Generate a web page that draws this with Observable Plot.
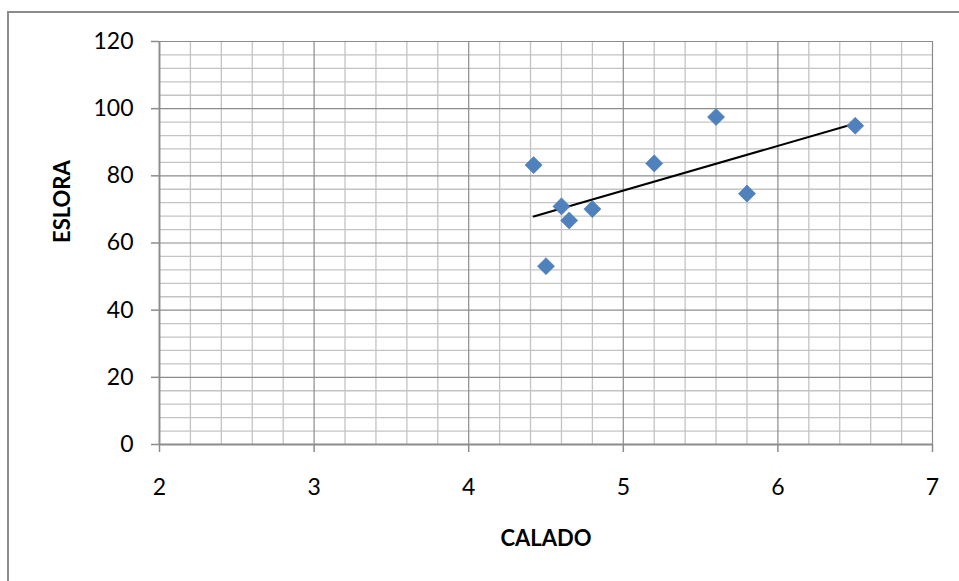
<!DOCTYPE html>
<html>
<head>
<meta charset="utf-8">
<script src="https://cdn.jsdelivr.net/npm/d3@7"></script>
<script src="https://cdn.jsdelivr.net/npm/@observablehq/plot@0.6"></script>
<style>
  html, body { margin: 0; padding: 0; background: #fff; }
  #wrap { position: relative; width: 959px; height: 581px; overflow: hidden; }
  #frame { position: absolute; left: 7px; top: 11px; width: 1000px; height: 600px;
           border-left: 2px solid #8c8c8c; border-top: 2px solid #8c8c8c; pointer-events: none; }
</style>
</head>
<body>
<div id="wrap"><div id="frame"></div></div>
<script>
// Calado (m) vs eslora (m)
const calado = [4.42, 4.6, 4.65, 4.8, 4.5, 5.2, 5.6, 5.8, 6.5];
const eslora = [83.2, 70.9, 66.7, 70.1, 53.1, 83.7, 97.5, 74.7, 94.9];
const xTicks = [2, 3, 4, 5, 6, 7];
const yTicks = [0, 20, 40, 60, 80, 100, 120];

const data = calado.map((c, i) => ({calado: c, eslora: eslora[i]}));

const xMinor = d3.range(0, 26).map(i => 2 + i * 0.2).filter(v => Math.abs(v - Math.round(v)) > 1e-6);
const yMinor = d3.range(0, 31).map(i => i * 4).filter(v => v % 20 !== 0);

const font = "Lato, 'Noto Sans', sans-serif";

const chart = Plot.plot({
  width: 959,
  height: 581,
  marginLeft: 159,
  marginRight: 27,
  marginTop: 41,
  marginBottom: 137,
  style: {fontFamily: font, fontSize: "23px", color: "#000", background: "transparent", overflow: "visible"},
  x: {domain: [2, 7]},
  y: {domain: [0, 120]},
  marks: [
    Plot.ruleX(xMinor, {stroke: "#c4c4c4", strokeWidth: 1.3}),
    Plot.ruleY(yMinor, {stroke: "#c4c4c4", strokeWidth: 1.3}),
    Plot.ruleX(xTicks, {stroke: "#8c8c8c", strokeWidth: 1.2}),
    Plot.ruleY(yTicks, {stroke: "#8c8c8c", strokeWidth: 1.2}),
    Plot.ruleX([2], {stroke: "#8c8c8c", strokeWidth: 1.8}),
    Plot.ruleY([0], {stroke: "#8c8c8c", strokeWidth: 1.8}),
    Plot.axisX(xTicks, {tickSize: 8, tickPadding: 26, tickFormat: "d", stroke: "#8c8c8c", strokeWidth: 1.5, fill: "#000", fontSize: 23, label: null}),
    Plot.axisY(yTicks, {tickSize: 8, tickPadding: 18, tickFormat: "d", stroke: "#8c8c8c", strokeWidth: 1.5, fill: "#000", fontSize: 23, label: null}),
    Plot.linearRegressionY(data, {x: "calado", y: "eslora", stroke: "#000", strokeWidth: 2, ci: 0}),
    Plot.dot(data, {x: "calado", y: "eslora", symbol: "diamond2", r: 7.7, fill: "#4f81bd", stroke: "#4a7ab3", strokeWidth: 0.6}),
    Plot.text(["ESLORA"], {frameAnchor: "left", rotate: -90, dx: -97, fontWeight: "bold", fontSize: 22, fill: "#000"}),
    Plot.text(["CALADO"], {frameAnchor: "bottom", dy: 101, fontWeight: "bold", fontSize: 22, fill: "#000"})
  ]
});

document.getElementById("wrap").prepend(chart);
</script>
</body>
</html>
